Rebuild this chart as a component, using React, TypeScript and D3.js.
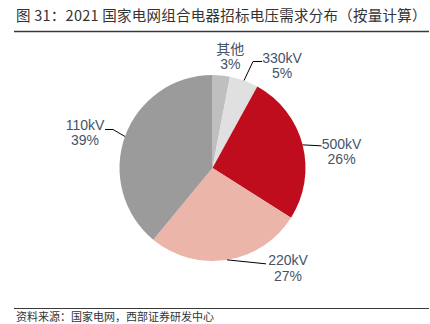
import React from "react";
import * as d3 from "d3";

const categories = ["其他", "330kV", "500kV", "220kV", "110kV"];
const shares = [3, 5, 26, 27, 39];
const shareLabels = ["3%", "5%", "26%", "27%", "39%"];
const colors = ["#bfbfbf", "#e0e0e0", "#c00d1e", "#ebb5a9", "#9b9b9b"];

const title = "图 31：2021 国家电网组合电器招标电压需求分布（按量计算）";
const source = "资料来源：国家电网，西部证券研发中心";

// label layout: offsets relative to the slice's edge point at its mid-angle
const labelLayout = [
  { leader: null, tx: 9, ty1: -26, ty2: -11 },
  { leader: [[9, -19], [18, -19]], tx: 38, ty1: -22, ty2: -7 },
  { leader: [[19, 1]], tx: 39, ty1: -1, ty2: 14 },
  { leader: [[39, 4]], tx: 61, ty1: 0, ty2: 16 },
  { leader: [[-12, -7], [-20, -7]], tx: -40, ty1: -11, ty2: 4 },
];

export default function App() {
  const W = 430, H = 324;
  const cx = 212.5, cy = 168, r = 93;
  const pie = d3.pie<number>().sort(null).value((d) => d);
  const arcs = pie(shares);
  const arc = d3.arc<d3.PieArcDatum<number>>().innerRadius(0).outerRadius(r);
  const labelColor = "#44546a";
  const latin = "'Liberation Sans', Arial, 'Noto Sans CJK SC', sans-serif";

  return (
    <svg width={W} height={H} style={{ position: "fixed", left: 0, top: 0, background: "#fff" }}>
      <text x={16} y={21} fontSize={14.5} letterSpacing={0.25} fill="#333" fontFamily="'Noto Sans CJK SC', sans-serif">{title}</text>
      <line x1={14} x2={429} y1={31.5} y2={31.5} stroke="#3a3a3a" strokeWidth={1.5} />
      <g transform={`translate(${cx},${cy})`}>
        {arcs.map((a, i) => (
          <path key={i} d={arc(a) || ""} fill={colors[i]} />
        ))}
      </g>
      {arcs.map((a, i) => {
        const mid = (a.startAngle + a.endAngle) / 2;
        const ex = cx + r * Math.sin(mid);
        const ey = cy - r * Math.cos(mid);
        const L = labelLayout[i];
        const pts = L.leader ? [[ex, ey], ...L.leader.map(([dx, dy]) => [ex + dx, ey + dy])] : null;
        return (
          <g key={i}>
            {pts && (
              <polyline points={pts.map((p) => p.join(",")).join(" ")} fill="none" stroke="#000" strokeWidth={1} />
            )}
            <text x={ex + L.tx} y={ey + L.ty1} textAnchor="middle" dominantBaseline="central" fontSize={14} fill={labelColor} fontFamily={latin}>{categories[i]}</text>
            <text x={ex + L.tx} y={ey + L.ty2} textAnchor="middle" dominantBaseline="central" fontSize={14} fill={labelColor} fontFamily={latin}>{shareLabels[i]}</text>
          </g>
        );
      })}
      <line x1={14} x2={429} y1={308.5} y2={308.5} stroke="#3a3a3a" strokeWidth={1} />
      <text x={16} y={321} fontSize={11} fill="#333" fontFamily="'Noto Sans CJK SC', sans-serif">{source}</text>
    </svg>
  );
}
